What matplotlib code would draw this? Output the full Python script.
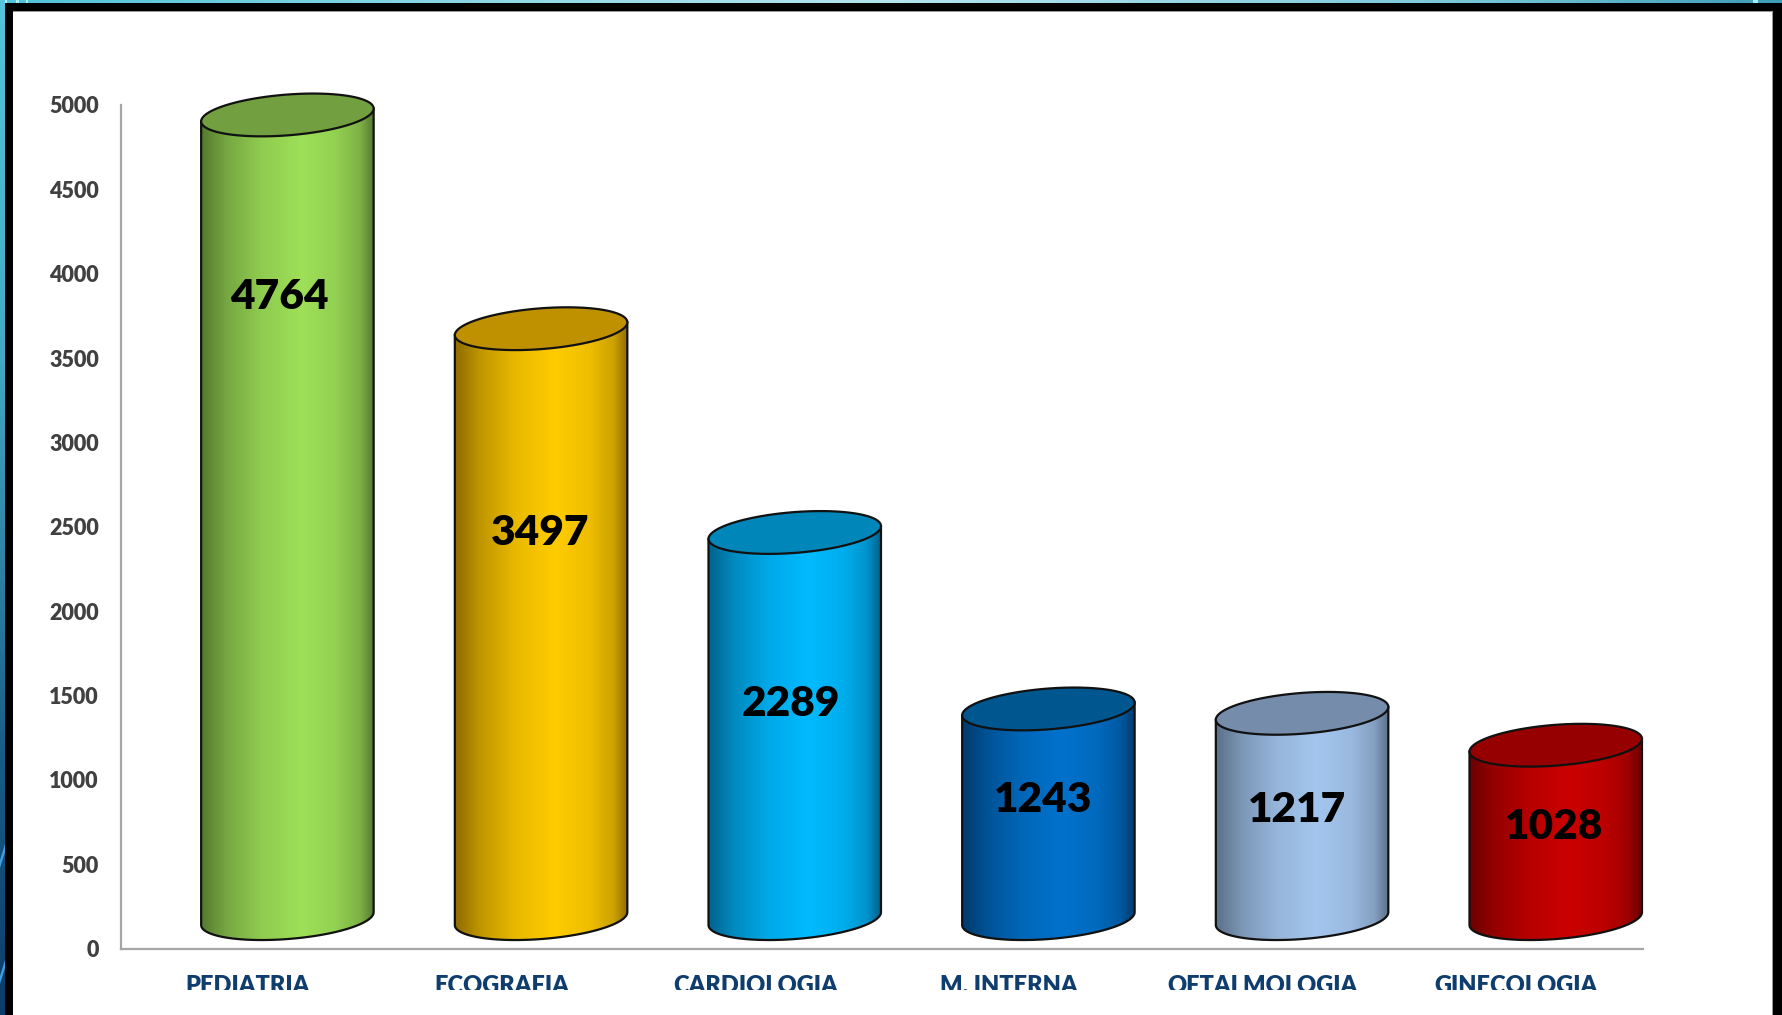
import numpy as np
import matplotlib
matplotlib.use('Agg')
import matplotlib.pyplot as plt
from matplotlib.patches import Polygon, Rectangle
from matplotlib.transforms import Bbox

categories = ['PEDIATRIA', 'ECOGRAFIA', 'CARDIOLOGIA', 'M. INTERNA', 'OFTALMOLOGIA', 'GINECOLOGIA']
values = [4764, 3497, 2289, 1243, 1217, 1028]
y_ticks = [0, 500, 1000, 1500, 2000, 2500, 3000, 3500, 4000, 4500, 5000]

# side colour, centre colour, top ellipse colour
dark_colors = ['#567a30', '#8f6c00', '#00628c', '#003a6c', '#5c7089', '#6a0000']
mid_colors = ['#9ee058', '#ffcc00', '#00bbff', '#0072cc', '#a4c6ee', '#cb0000']
top_colors = ['#729f3f', '#bf9000', '#0086b8', '#00568f', '#768cab', '#960000']

# shading across a cylinder
shade_pos = [0, .15, .35, .58, .78, .92, 1]
shade_mix = [0, .45, .8, 1, .85, .55, 0]

# cylinders float above the axis and sit right of the category centre (data units)
base = 177
x_shift = 0.156
half_w = 0.34
ell_b = 121
ell_tilt = 38

# hand placed value labels in the original
label_dx = [-0.03, -0.004, -0.014, -0.022, -0.018, -0.008]
label_drop = [1080, 1211, 1015, 541, 571, 482]

plt.rcParams['font.family'] = ['Lato', 'DejaVu Sans']
W, H = 1782, 1015
fig = plt.figure(figsize=(W / 100, H / 100), dpi=100, facecolor='white')


def rgb(c):
    return np.array(matplotlib.colors.to_rgb(c))


# slide background behind the black frame
bg = fig.add_axes([0, 0, 1, 1], zorder=0)
bg.set_xlim(0, W)
bg.set_ylim(H, 0)
bg.axis('off')

top_stops = np.array([rgb('#4fc3d9'), rgb('#8ad6e4'), rgb('#b5e5ee'), rgb('#7fcbdc'), rgb('#3f9db8')])
xs = np.linspace(0, 1, 300)
top_img = np.stack([np.interp(xs, [0, .25, .5, .8, 1], top_stops[:, i]) for i in range(3)], axis=-1)[None, :, :]
bg.imshow(top_img, extent=[0, W, 6, 0], aspect='auto', zorder=1)

left_stops = np.array([rgb('#55c4dc'), rgb('#43a9c4'), rgb('#2f84a6'), rgb('#175c86'), rgb('#0c3c6a')])
ys = np.linspace(0, 1, 300)
left_img = np.stack([np.interp(ys, [0, .35, .55, .75, 1], left_stops[:, i]) for i in range(3)], axis=-1)[:, None, :]
bg.imshow(left_img, extent=[0, 8, H, 0], aspect='auto', zorder=2)
for sy in [848, 964]:
    bg.add_patch(Polygon([[0, sy + 12], [5, sy - 4], [5, sy + 4], [0, sy + 20]], color='#3f9fe0', lw=0, zorder=3))
for sx, sw in [(5, 2), (16, 3), (26, 2), (1753, 5)]:
    bg.add_patch(Rectangle((sx, 0), sw, 3, color='#a5f0f5', lw=0, zorder=3))

bg.add_patch(Rectangle((5, 3), W - 5, H, color='black', lw=0, zorder=4))
bg.add_patch(Rectangle((13, 11), 1760, H, color='#9a9a9a', lw=0, zorder=5))
bg.add_patch(Rectangle((13, 12), 1759, H, color='white', lw=0, zorder=6))
bg.set_xlim(0, W)
bg.set_ylim(H, 0)

# plot area, pixel box
ax = fig.add_axes([121 / W, 1 - 948.5 / H, 1522 / W, 843.5 / H], zorder=1)
ax.patch.set_alpha(0)

for i, v in enumerate(values):
    cx = i + 0.5 + x_shift
    top = base + v
    t = np.linspace(np.pi, 2 * np.pi, 80)
    low_x = cx + half_w * np.cos(t)
    low_y = ell_b * np.sin(t) + ell_tilt * np.cos(t)
    # body outline: down the left side, round the bottom, up the right side
    body_x = np.r_[low_x, low_x[-1], low_x[0]]
    body_y = np.r_[base + low_y, top + low_y[-1], top + low_y[0]]
    body = Polygon(np.c_[body_x, body_y], closed=True, fc='none', ec='#111111', lw=1.6, zorder=3, clip_on=False)
    ax.add_patch(body)

    mix = np.interp(np.linspace(0, 1, 256), shade_pos, shade_mix)[:, None]
    grad = rgb(dark_colors[i]) * (1 - mix) + rgb(mid_colors[i]) * mix
    im = ax.imshow(grad[None, :, :], extent=[cx - half_w, cx + half_w, base - 200, top + 200],
                   aspect='auto', zorder=2, interpolation='bilinear')
    im.set_clip_path(Polygon(np.c_[body_x, body_y], closed=True, transform=ax.transData))

    t = np.linspace(0, 2 * np.pi, 160)
    top_xy = np.c_[cx + half_w * np.cos(t), top + ell_b * np.sin(t) + ell_tilt * np.cos(t)]
    ax.add_patch(Polygon(top_xy, closed=True, fc=top_colors[i], ec='#111111', lw=1.6, zorder=4, clip_on=False))

    ax.text(cx + label_dx[i], top - label_drop[i], str(v), ha='center', va='center',
            fontsize=30.5, fontweight='heavy', color='black', zorder=5)

ax.set_xlim(0, 6)
ax.set_ylim(0, 5000)
ax.set_yticks(y_ticks)
ax.set_xticks(np.arange(6) + 0.5)
ax.set_xticklabels(categories)
ax.tick_params(axis='both', length=0)
ax.tick_params(axis='y', pad=16, labelsize=15.5, labelcolor='#404040')
ax.tick_params(axis='x', pad=19, labelsize=17, labelcolor='#0f3d6e')
for lab in ax.get_yticklabels():
    lab.set_fontweight('heavy')
# the category names are cut off along the bottom in the original
cut = Bbox([[0, H - 990], [W, H]])
for lab in ax.get_xticklabels():
    lab.set_fontweight('heavy')
    lab.set_clip_on(True)
    lab.set_clip_box(cut)
for s in ['top', 'right']:
    ax.spines[s].set_visible(False)
for s in ['left', 'bottom']:
    ax.spines[s].set_color('#a6a6a6')
    ax.spines[s].set_linewidth(1.6)

fig.savefig('out.png', dpi=100)
